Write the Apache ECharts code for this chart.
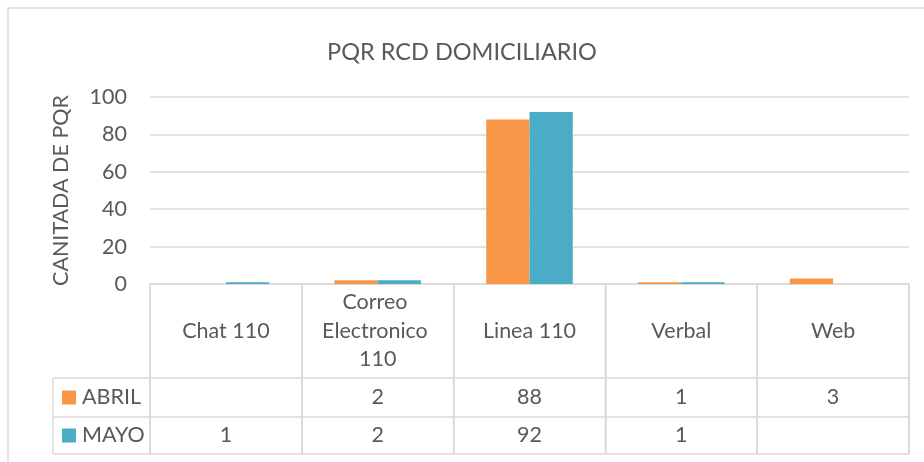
<!DOCTYPE html>
<html>
<head>
<meta charset="utf-8">
<script src="https://cdn.jsdelivr.net/npm/echarts@6/dist/echarts.min.js"></script>
<style>
  html, body { margin: 0; padding: 0; background: #fff; }
  #chart { width: 924px; height: 462px; }
</style>
</head>
<body>
<div id="chart"></div>
<script>
var categories = ['Chat 110', 'Correo Electronico 110', 'Linea 110', 'Verbal', 'Web'];
var abril = [null, 2, 88, 1, 3];
var mayo = [1, 2, 92, 1, null];
var yTicks = [0, 20, 40, 60, 80, 100];

var TEXT = '#595959';
var LINE = '#d9d9d9';
var ORANGE = '#F79646';
var BLUE = '#4BACC6';
var FONT = 'Lato';
var FS = 21.5;

// table layout (below the plot)
var headerH = 94;
var rowH = [39, 37];
var legendLeft = 53;

var chart = echarts.init(document.getElementById('chart'));

var option = {
    backgroundColor: '#fff',
    animation: false,
    textStyle: { fontFamily: FONT },
    title: {
        text: 'PQR RCD DOMICILIARIO',
        left: 'center',
        top: 35,
        textStyle: { fontFamily: FONT, fontSize: 23.5, fontWeight: 'normal', color: TEXT }
    },
    grid: { left: 150, right: 15, top: 97, bottom: 178 },
    xAxis: {
        type: 'category',
        data: categories,
        axisLine: { lineStyle: { color: LINE, width: 1.5 } },
        axisTick: { show: true, interval: 0, length: headerH + rowH[0] + rowH[1],
                    lineStyle: { color: LINE, width: 1.5 } },
        axisLabel: {
            interval: 0,
            color: TEXT, fontFamily: FONT, fontSize: FS, lineHeight: 28.5,
            width: 130, overflow: 'break',
            verticalAlign: 'middle', margin: headerH / 2
        }
    },
    yAxis: {
        type: 'value',
        min: yTicks[0],
        max: yTicks[yTicks.length - 1],
        interval: 20,
        name: 'CANITADA DE PQR',
        nameLocation: 'middle',
        nameRotate: 90,
        nameGap: 78,
        nameTextStyle: { color: TEXT, fontFamily: FONT, fontSize: FS },
        axisLine: { show: false },
        axisTick: { show: false },
        axisLabel: { color: TEXT, fontFamily: FONT, fontSize: FS, margin: 23 },
        splitLine: { lineStyle: { color: LINE, width: 1.5 } }
    },
    series: [
        { name: 'ABRIL', type: 'bar', data: abril, barGap: 0, barCategoryGap: '43%',
          itemStyle: { color: ORANGE } },
        { name: 'MAYO', type: 'bar', data: mayo,
          itemStyle: { color: BLUE } }
    ]
};

chart.setOption(option);

// data table drawn below the axis, aligned with the category axis
function buildTable() {
    var g = [];
    var y0 = chart.convertToPixel({ yAxisIndex: 0 }, 0);
    var step = chart.convertToPixel({ xAxisIndex: 0 }, categories[1]) - chart.convertToPixel({ xAxisIndex: 0 }, categories[0]);
    var xStart = chart.convertToPixel({ xAxisIndex: 0 }, categories[0]) - step / 2;
    var xEnd = chart.convertToPixel({ xAxisIndex: 0 }, categories[categories.length - 1]) + step / 2;
    var r1 = y0 + headerH;
    var r2 = r1 + rowH[0];
    var r3 = r2 + rowH[1];
    var ls = { stroke: LINE, lineWidth: 1.5 };

    // outer chart border
    g.push({ type: 'rect', shape: { x: 8, y: 8, width: 1000, height: 1000 },
             style: { fill: null, stroke: LINE, lineWidth: 1.5 }, silent: true });

    [r1, r2, r3].forEach(function(y) {
        g.push({ type: 'line', shape: { x1: legendLeft, y1: y, x2: xEnd, y2: y }, style: ls });
    });
    g.push({ type: 'line', shape: { x1: legendLeft, y1: r1, x2: legendLeft, y2: r3 }, style: ls });
    // column borders
    for (var i = 0; i <= categories.length; i++) {
        var x = xStart + step * i;
        g.push({ type: 'line', shape: { x1: x, y1: y0, x2: x, y2: r3 }, style: ls });
    }

    var rows = [
        { name: 'ABRIL', color: ORANGE, data: abril, top: r1, h: rowH[0] },
        { name: 'MAYO', color: BLUE, data: mayo, top: r2, h: rowH[1] }
    ];
    rows.forEach(function(r) {
        var cy = r.top + r.h / 2;
        g.push({ type: 'rect', shape: { x: 62, y: cy - 7, width: 14, height: 14 },
                 style: { fill: r.color } });
        g.push({ type: 'text', x: 82, y: cy,
                 style: { text: r.name, fill: TEXT, font: FS + 'px ' + FONT,
                          textAlign: 'left', textVerticalAlign: 'middle' } });
        r.data.forEach(function(v, i) {
            if (v === null) return;
            var cx = chart.convertToPixel({ xAxisIndex: 0 }, categories[i]);
            g.push({ type: 'text', x: cx, y: cy,
                     style: { text: String(v), fill: TEXT, font: FS + 'px ' + FONT,
                              textAlign: 'center', textVerticalAlign: 'middle' } });
        });
    });

    chart.setOption({ graphic: g });
}

buildTable();
</script>
</body>
</html>
